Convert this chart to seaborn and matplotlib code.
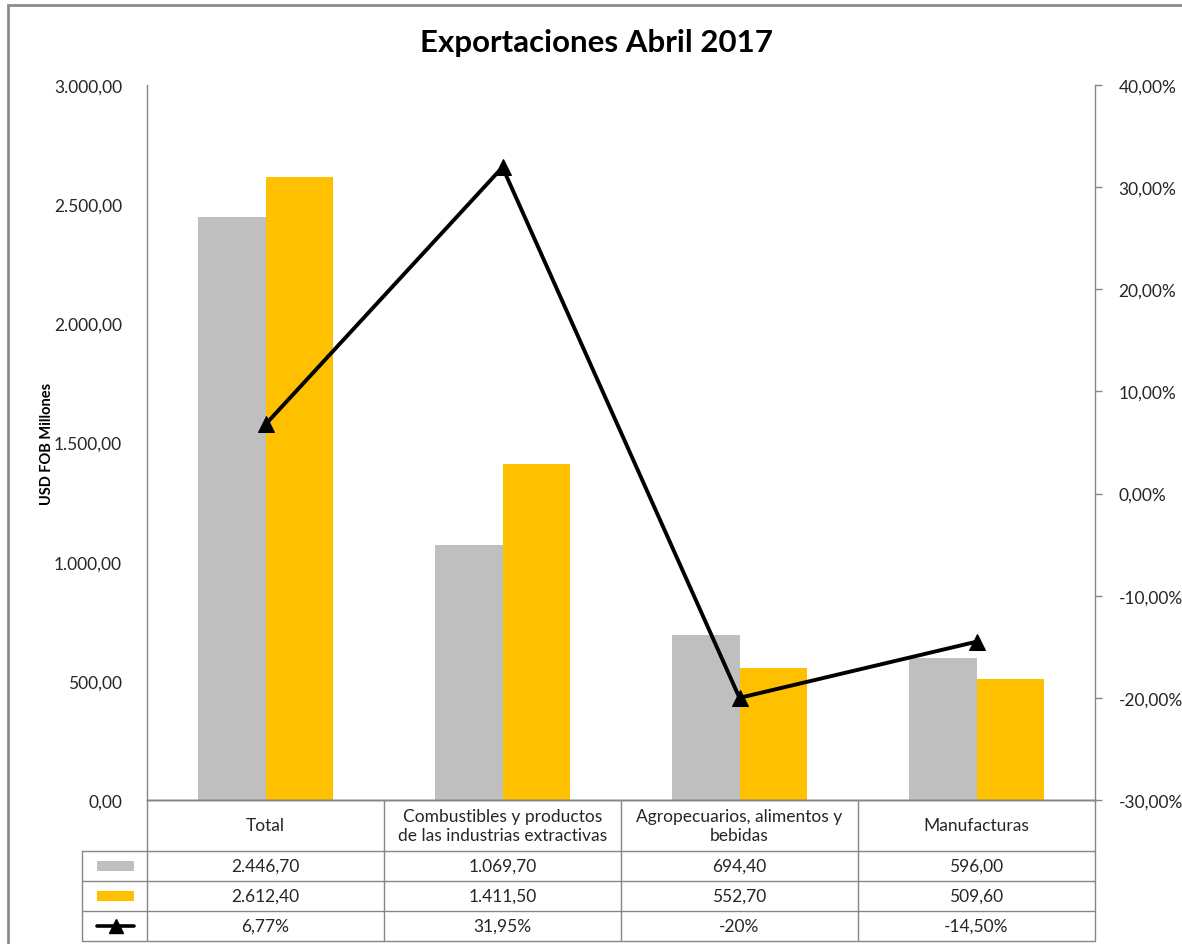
"""
Exportaciones Abril 2017 - bar + line chart with data table
"""
import numpy as np
import pandas as pd
import matplotlib
matplotlib.use("Agg")
import matplotlib.pyplot as plt
import matplotlib.transforms as mtransforms
from matplotlib.patches import Rectangle
from matplotlib.lines import Line2D
import seaborn as sns

# Data
categories = [
    "Total",
    "Combustibles y productos\nde las industrias extractivas",
    "Agropecuarios, alimentos y\nbebidas",
    "Manufacturas",
]
exports_2016 = [2446.70, 1069.70, 694.40, 596.00]
exports_2017 = [2612.40, 1411.50, 552.70, 509.60]
variation = [0.0677, 0.3195, -0.20, -0.145]
variation_labels = ["6,77%", "31,95%", "-20%", "-14,50%"]
series_names = ["2016", "2017"]

GRAY = "#BFBFBF"
YELLOW = "#FFC000"
LINE_COL = "#868686"
TEXT_COL = "#262626"
FS = 12.5

W, H = 1182, 945


def fx(px):
    return px / W


def fy(py):
    return 1 - py / H


def fmt_num(v, decimals=2):
    s = f"{v:,.{decimals}f}"
    return s.replace(",", "X").replace(".", ",").replace("X", ".")


df = pd.DataFrame({
    "categoria": categories * 2,
    "valor": exports_2016 + exports_2017,
    "serie": [series_names[0]] * 4 + [series_names[1]] * 4,
})

sns.set_theme(style="white")
plt.rcParams["font.family"] = ["Lato", "DejaVu Sans"]

fig = plt.figure(figsize=(W / 100, H / 100), dpi=100)
left, right, top, bottom = 147, 1095, 86, 801
ax = fig.add_axes([fx(left), fy(bottom), fx(right - left), (bottom - top) / H])

sns.barplot(data=df, x="categoria", y="valor", hue="serie",
            palette=[GRAY, YELLOW], width=0.57, saturation=1,
            legend=False, linewidth=0, ax=ax)
ax.set_ylim(0, 3000)
ax.set_yticks(np.arange(0, 3001, 500))
ax.set_yticklabels([fmt_num(v) for v in np.arange(0, 3001, 500)],
                   fontsize=FS, color=TEXT_COL)
ax.tick_params(axis="y", length=0, pad=18)
ax.set_xticks([])
ax.set_xlabel("")
ax.set_ylabel("USD FOB Millones", fontsize=10.5, fontweight="bold",
              color="black")
ax.yaxis.set_label_coords((54 - left) / (right - left), 0.5)

ax2 = ax.twinx()
sns.lineplot(x=np.arange(len(variation)), y=variation, ax=ax2,
             color="black", linewidth=2.8, marker="^", markersize=12,
             markeredgecolor="black")
ax2.set_ylim(-0.30, 0.40)
pct_ticks = np.arange(-0.30, 0.401, 0.10)
ax2.set_yticks(pct_ticks)
ax2.set_yticklabels([fmt_num(v * 100) + "%" for v in pct_ticks],
                    fontsize=FS, color=TEXT_COL)
ax2.tick_params(axis="y", length=5, width=1, color=LINE_COL, pad=12,
                direction="out")
ax.set_xlim(-0.5, len(categories) - 0.5)

for a in (ax, ax2):
    a.spines["top"].set_visible(False)
    for side in ("left", "right", "bottom"):
        a.spines[side].set_color(LINE_COL)
        a.spines[side].set_linewidth(1)
ax2.spines["left"].set_visible(False)
ax.spines["right"].set_visible(False)

# Title
fig.text(fx(597), fy(43), "Exportaciones Abril 2017", ha="center", va="center",
         fontsize=22.5, fontweight="bold", color="black")

# Data table
trans = mtransforms.blended_transform_factory(ax.transData, fig.transFigure)
rows = [801, 852, 882, 912, 942]
label_left = 82
lw = 1

fig.add_artist(Line2D([fx(left), fx(right)], [fy(rows[0])] * 2,
                      color=LINE_COL, lw=lw))
for r in rows[1:]:
    fig.add_artist(Line2D([fx(label_left), fx(right)], [fy(r)] * 2,
                          color=LINE_COL, lw=lw))
for i in range(len(categories) + 1):
    xd = i - 0.5
    fig.add_artist(Line2D([xd, xd], [fy(rows[0]), fy(rows[-1])],
                          color=LINE_COL, lw=lw, transform=trans))
fig.add_artist(Line2D([fx(label_left)] * 2, [fy(rows[1]), fy(rows[-1])],
                      color=LINE_COL, lw=lw))

row_center = [(rows[i] + rows[i + 1]) / 2 for i in range(len(rows) - 1)]
for i, cat in enumerate(categories):
    fig.text(i, fy(row_center[0]), cat, transform=trans, ha="center",
             va="center", fontsize=FS, color=TEXT_COL, linespacing=1.25)
    fig.text(i, fy(row_center[1]), fmt_num(exports_2016[i]), transform=trans,
             ha="center", va="center", fontsize=FS, color=TEXT_COL)
    fig.text(i, fy(row_center[2]), fmt_num(exports_2017[i]), transform=trans,
             ha="center", va="center", fontsize=FS, color=TEXT_COL)
    fig.text(i, fy(row_center[3]), variation_labels[i], transform=trans,
             ha="center", va="center", fontsize=FS, color=TEXT_COL)

# legend keys inside table
key_x0, key_x1 = 97, 134
for r, col in zip(row_center[1:3], [GRAY, YELLOW]):
    fig.add_artist(Rectangle((fx(key_x0), fy(r + 5)), fx(key_x1 - key_x0),
                             10 / H, transform=fig.transFigure,
                             facecolor=col, edgecolor="none"))
fig.add_artist(Line2D([fx(key_x0), fx(key_x1)], [fy(row_center[3])] * 2,
                      color="black", lw=2.6))
fig.add_artist(Line2D([fx((key_x0 + key_x1) / 2)], [fy(row_center[3])],
                      color="black", marker="^", markersize=10, lw=0))

# outer chart border
fig.add_artist(Rectangle((fx(8), fy(960)), fx(1200), (960 - 6) / H,
                         transform=fig.transFigure, facecolor="none",
                         edgecolor="#8C8C8C", lw=2))

plt.savefig("out.png", dpi=100)
plt.close()
